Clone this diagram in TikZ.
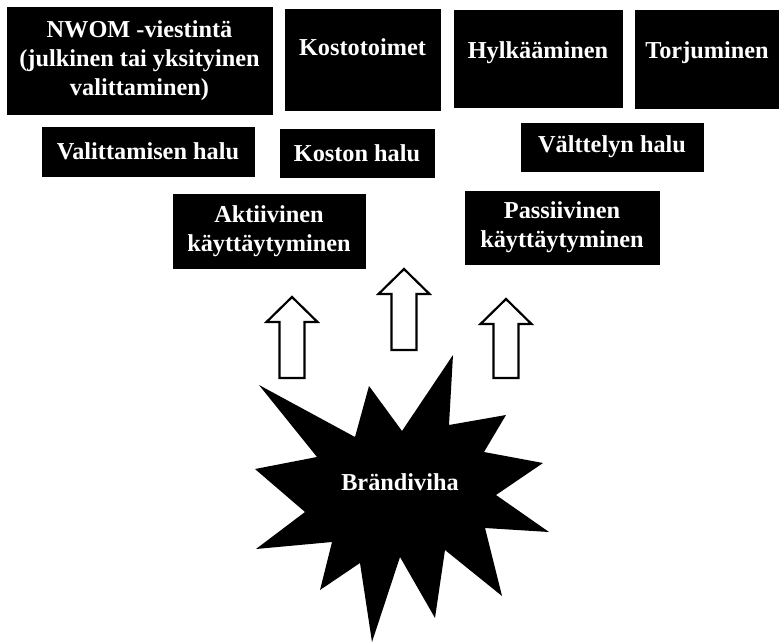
\documentclass[tikz,border=0pt]{standalone}
\usepackage{fontspec}
\setmainfont{Liberation Serif}
\usepackage{tikz}

\begin{document}
\begin{tikzpicture}[x=1pt,y=-1pt,
    box/.style={draw=black, fill=black, text=white, inner sep=0pt, align=center,
        font=\fontsize{24.3}{29}\selectfont\bfseries},
    topbox/.style={box, minimum width=#1},
    blockarr/.style={draw=black, line width=2.2pt, fill=white, line join=miter}]
    \useasboundingbox (0,0) rectangle (779,642);
    % top row
    \node [box, minimum width=265, minimum height=107] (nwom) at (139.5,60.5)
        {NWOM -viestintä\\(julkinen tai yksityinen\\valittaminen)};
    \node [topbox=155, text height=46, text depth=55] (kosto) at (362.5,9) [anchor=north] {Kostotoimet};
    \node [topbox=168, text height=48, text depth=49] (hylk) at (538,10) [anchor=north] {Hylkääminen};
    \node [topbox=144, text height=48, text depth=50] (torj) at (707,10) [anchor=north] {Torjuminen};
    % halut
    \node [box, minimum width=212, minimum height=49] (valhalu) at (148,151.5) {Valittamisen halu};
    \node [box, minimum width=154, minimum height=48] (kostohalu) at (357,153) {Koston halu};
    \node [box, minimum width=182, minimum height=48] (valtthalu) at (612,147) {Välttelyn halu};
    % kayttaytyminen
    \node [box, minimum width=192, minimum height=74] (aktiiv) at (269,231) {Aktiivinen\\käyttäytyminen};
    \node [box, minimum width=194, minimum height=73] (passiiv) at (562,227.5) {Passiivinen\\käyttäytyminen};
    % nuolet
    \foreach \x/\y/\l in {292/297/81, 404/269/81, 506/299/79}
        \draw [blockarr] (\x,\y) -- ++(25.5,25) -- ++(-13,0) -- ++(0,\l-25) -- ++(-25,0)
            -- ++(0,-\l+25) -- ++(-13,0) -- cycle;
    % tahti
    \fill [black] (259,385) -- (355,437) -- (369,386) -- (402,431) -- (453,355) -- (449,425)
        -- (506,415) -- (484,452) -- (543,463) -- (496,495) -- (549,532) -- (485,528)
        -- (502,596) -- (445,550) -- (435,618) -- (400,557) -- (372,642) -- (360,563)
        -- (320,590) -- (332,542) -- (256,549) -- (305,512) -- (255,469) -- (317,457) -- cycle;
    \node [text=white, font=\fontsize{24.3}{29}\selectfont\bfseries] (viha) at (400,482) {Brändiviha};
\end{tikzpicture}
\end{document}
